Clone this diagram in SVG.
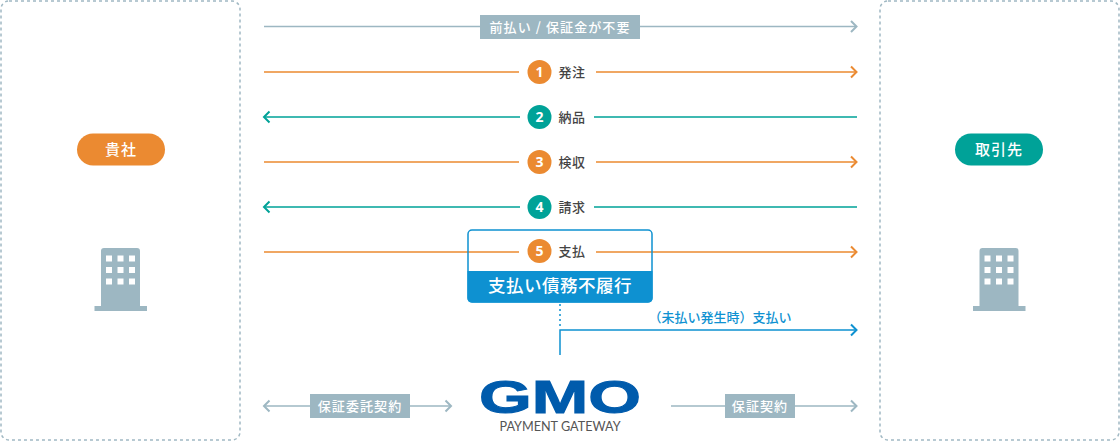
<svg xmlns="http://www.w3.org/2000/svg" width="1120" height="444" viewBox="0 0 1120 444">
<style>
text{font-family:"Noto Sans CJK JP","Noto Sans",sans-serif}
.box{fill:#fff;stroke:#a0b8c3;stroke-width:1.5;stroke-dasharray:3 3}
.l{fill:none;stroke-width:1.5}
.h{fill:none;stroke-width:2}
.g{stroke:#9db7c2}.o{stroke:#eb8a31}.t{stroke:#00a298}.b{stroke:#0e91d1}
.c{fill:#fff;font-size:14px;font-weight:700;text-anchor:middle;font-family:"Noto Sans","Liberation Sans",sans-serif}
.lb{fill:#444;font-size:13px;font-weight:500;letter-spacing:.5px}
.tag{fill:#fff;font-size:13px;font-weight:500;text-anchor:middle;letter-spacing:1.1px}
.pill{fill:#fff;font-size:15px;font-weight:500;text-anchor:middle;letter-spacing:1px}
</style>
<g id="company">
<rect class="box" x="1" y="1" width="239" height="439" rx="8"/>
<rect x="77" y="133.500" width="88" height="32" rx="16" fill="#eb8a31"/>
<text class="pill" x="121" y="155">貴社</text>
<path fill="#9db7c2" d="M94.500 311v-5h6.500V251q0-3 3-3h33q3 0 3 3v55h7v5z"/>
<path fill="#fff" d="M106 255.500h6v6h-6zM117.500 255.500h6v6h-6zM129 255.500h6v6h-6zM106 267h6v6h-6zM117.500 267h6v6h-6zM129 267h6v6h-6zM106 278.500h6v6h-6zM117.500 278.500h6v6h-6zM129 278.500h6v6h-6z"/>
</g>
<g id="partner">
<rect class="box" x="880" y="1" width="239" height="439" rx="8"/>
<rect x="955" y="133.500" width="88" height="32" rx="16" fill="#00a298"/>
<text class="pill" x="999" y="155">取引先</text>
<path fill="#9db7c2" d="M973 311v-5h6.500V251q0-3 3-3h33q3 0 3 3v55h7v5z"/>
<path fill="#fff" d="M984.500 255.500h6v6h-6zM996 255.500h6v6h-6zM1007.500 255.500h6v6h-6zM984.500 267h6v6h-6zM996 267h6v6h-6zM1007.500 267h6v6h-6zM984.500 278.500h6v6h-6zM996 278.500h6v6h-6zM1007.500 278.500h6v6h-6z"/>
</g>
<g id="connectors">
<path class="l g" d="M264 26.500H856"/><path class="h g" d="M851 21l5.500 5.500-5.500 5.500"/>
<path class="l o" d="M264 72H519M596 72H856"/><path class="h o" d="M851 66.500l5.500 5.500-5.500 5.500"/>
<path class="l t" d="M264 117H520M594 117H857"/><path class="h t" d="M269.500 111.500L264 117l5.500 5.500"/>
<path class="l o" d="M264 162H519M596 162H856"/><path class="h o" d="M851 156.500l5.500 5.500-5.500 5.500"/>
<path class="l t" d="M264 207H520M594 207H857"/><path class="h t" d="M269.500 201.500L264 207l5.500 5.500"/>
<path class="l o" d="M264 252H519M596 252H856"/><path class="h o" d="M851 246.500l5.500 5.500-5.500 5.500"/>
<path class="l b" d="M560 304V329" stroke-dasharray="2 3"/>
<path class="l b" d="M560 355V330H856"/><path class="h b" d="M851 324.500l5.500 5.500-5.500 5.500"/>
<path class="l g" d="M264 406H451"/><path class="h g" d="M269.500 400.500L264 406l5.500 5.500M445.500 400.500L451 406l-5.500 5.500"/>
<path class="l g" d="M671 406H856"/><path class="h g" d="M851 400.500l5.500 5.500-5.500 5.500"/>
</g>
<g id="top-note">
<rect x="480" y="15" width="160" height="24" fill="#9db7c2"/>
<text class="tag" x="560" y="32">前払い / 保証金が不要</text>
</g>
<g id="default-box">
<rect x="468" y="230" width="184" height="72" rx="4" fill="none" stroke="#0e91d1" stroke-width="1.500"/>
<path d="M467.500 271H652.500V298q0 4.500-4.500 4.500H472q-4.500 0-4.500-4.500z" fill="#0e91d1"/>
<text x="560" y="292" fill="#fff" font-size="17.500" font-weight="500" text-anchor="middle" letter-spacing=".5">支払い債務不履行</text>
</g>
<g id="step1"><circle cx="539.500" cy="72" r="12" fill="#eb8a31"/><text class="c" x="539.500" y="77">1</text><text class="lb" x="558.500" y="77">発注</text></g>
<g id="step2"><circle cx="539.500" cy="117" r="12" fill="#00a298"/><text class="c" x="539.500" y="122">2</text><text class="lb" x="558.500" y="122">納品</text></g>
<g id="step3"><circle cx="539.500" cy="162" r="12" fill="#eb8a31"/><text class="c" x="539.500" y="167">3</text><text class="lb" x="558.500" y="167">検収</text></g>
<g id="step4"><circle cx="539.500" cy="207" r="12" fill="#00a298"/><text class="c" x="539.500" y="212">4</text><text class="lb" x="558.500" y="212">請求</text></g>
<g id="step5"><circle cx="539.500" cy="251" r="12" fill="#eb8a31"/><text class="c" x="539.500" y="256">5</text><text class="lb" x="558.500" y="256">支払</text></g>
<text id="unpaid" x="720" y="322" fill="#0e91d1" font-size="13" font-weight="500" text-anchor="middle">（未払い発生時）支払い</text>
<g id="contract-left"><rect x="310" y="394" width="100" height="24" fill="#9db7c2"/><text class="tag" x="360" y="411">保証委託契約</text></g>
<g id="contract-right"><rect x="725" y="394" width="70" height="24" fill="#9db7c2"/><text class="tag" x="760" y="411">保証契約</text></g>
<g id="gmo">
<text x="479" y="413" font-size="46" font-weight="700" textLength="162" lengthAdjust="spacingAndGlyphs" fill="#005bac" stroke="#005bac" stroke-width="1" style="font-family:'Liberation Sans',sans-serif">GMO</text>
<text x="560" y="431" font-size="12.500" fill="#555" text-anchor="middle" textLength="121" lengthAdjust="spacingAndGlyphs" style="font-family:'Lato',sans-serif">PAYMENT GATEWAY</text>
</g>
</svg>
